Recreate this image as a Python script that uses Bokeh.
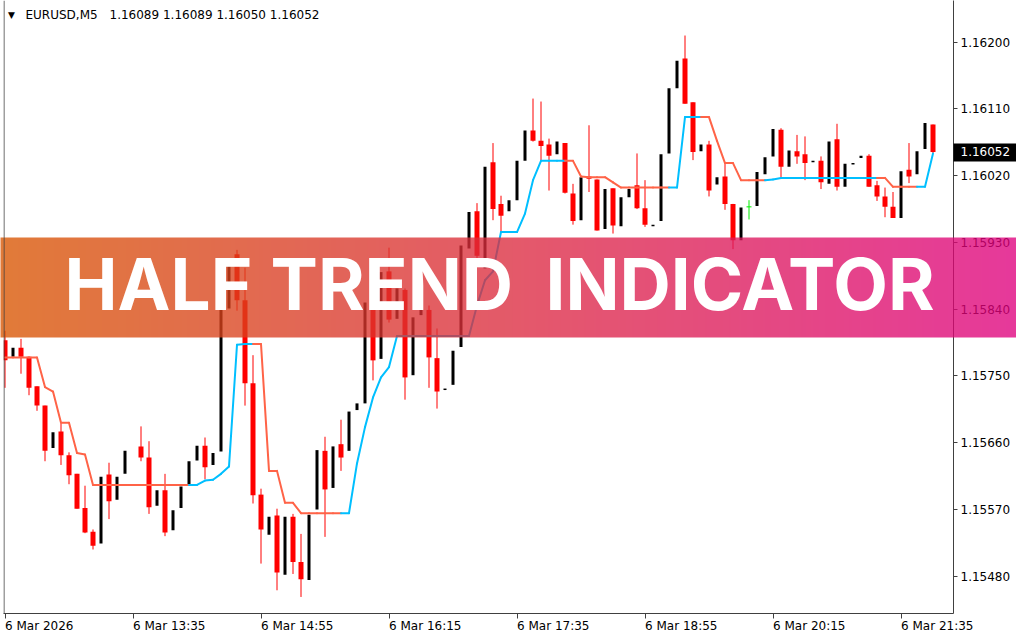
import numpy as np
from bokeh.plotting import figure
from bokeh.models import Range1d, FixedTicker, PrintfTickFormatter, Label, Span
from bokeh.core.properties import value
from bokeh.embed import file_html
from bokeh.resources import INLINE

nan = float("nan")

# ---------------- data ----------------
symbol = "EURUSD,M5"
time_tick_bars = [0, 16, 32, 48, 64, 80, 96, 112]
time_tick_labels = ["6 Mar 2026", "6 Mar 13:35", "6 Mar 14:55", "6 Mar 16:15",
                    "6 Mar 17:35", "6 Mar 18:55", "6 Mar 20:15", "6 Mar 21:35"]
price_ticks = [1.16200, 1.16110, 1.16020, 1.15930, 1.15840,
               1.15750, 1.15660, 1.15570, 1.15480]

opens = [1.15798, 1.15776, 1.15788, 1.15776, 1.15736, 1.15710, 1.15653, 1.15675, 1.15643, 1.15618,
         1.15572, 1.15540, 1.15524, 1.15617, 1.15583, 1.15618, nan, 1.15655, 1.15640, 1.15575,
         1.15596, 1.15542, 1.15572, 1.15603, 1.15636, 1.15656, 1.15630, 1.15648, 1.15841, 1.15914,
         1.15852, 1.15740, 1.15590, 1.15536, 1.15562, 1.15482, 1.15560, 1.15499, 1.15475, 1.15570,
         1.15649, 1.15599, 1.15658, 1.15649, 1.15704, 1.15713, 1.15843, 1.15773, 1.15891, 1.15827,
         1.15866, 1.15751, 1.15832, 1.15839, 1.15774, 1.15731, 1.15738, 1.15789, 1.15922, 1.15972,
         1.15895, 1.16038, 1.15982, 1.15972, 1.15987, 1.16040, 1.16081, 1.16067, 1.16062, 1.16049,
         1.16064, 1.15996, 1.15960, 1.16019, 1.16015, 1.15948, 1.16003, 1.15952, 1.15991, 1.16007,
         1.15976, 1.15952, 1.15959, 1.16050, 1.16138, 1.16178, 1.16119, 1.16053, 1.16062, 1.16008,
         1.16019, 1.15982, 1.15933, 1.15978, 1.15979, 1.16022, 1.16046, 1.16082, 1.16032, 1.16053,
         1.16049, 1.16038, 1.16040, 1.16009, 1.16069, 1.16005, 1.16035, 1.16044, 1.16047, 1.16007,
         1.15992, 1.15978, 1.15963, 1.16028, 1.16022, 1.16056, 1.16089]
highs = [1.15811, 1.15788, 1.15800, 1.15776, 1.15736, 1.15710, 1.15674, 1.15686, 1.15647, 1.15618,
         1.15602, 1.15543, 1.15614, 1.15633, 1.15614, 1.15649, nan, 1.15682, 1.15662, 1.15596,
         1.15618, 1.15569, 1.15601, 1.15635, 1.15656, 1.15667, 1.15646, 1.15841, 1.15909, 1.15920,
         1.15896, 1.15778, 1.15598, 1.15560, 1.15571, 1.15560, 1.15564, 1.15537, 1.15563, 1.15650,
         1.15668, 1.15655, 1.15691, 1.15702, 1.15713, 1.15849, 1.15852, 1.15890, 1.15923, 1.15868,
         1.15868, 1.15829, 1.15839, 1.15845, 1.15814, 1.15733, 1.15784, 1.15926, 1.15971, 1.15983,
         1.16032, 1.16064, 1.15993, 1.15987, 1.16040, 1.16081, 1.16124, 1.16120, 1.16070, 1.16066,
         1.16064, 1.16009, 1.16018, 1.16088, 1.16015, 1.16002, 1.16003, 1.15991, 1.16002, 1.16050,
         1.16014, 1.15954, 1.16049, 1.16138, 1.16175, 1.16209, 1.16119, 1.16062, 1.16067, 1.16018,
         1.16037, 1.15982, 1.15977, 1.15987, 1.16025, 1.16045, 1.16083, 1.16084, 1.16054, 1.16075,
         1.16073, 1.16040, 1.16046, 1.16066, 1.16090, 1.16036, 1.16037, 1.16047, 1.16049, 1.16013,
         1.16004, 1.15998, 1.16026, 1.16064, 1.16053, 1.16091, 1.16089]
lows = [1.15734, 1.15776, 1.15753, 1.15724, 1.15703, 1.15635, 1.15653, 1.15630, 1.15604, 1.15571,
        1.15538, 1.15516, 1.15524, 1.15557, 1.15583, 1.15618, nan, 1.15635, 1.15564, 1.15575,
        1.15534, 1.15542, 1.15572, 1.15603, 1.15636, 1.15611, 1.15630, 1.15648, 1.15841, 1.15838,
        1.15710, 1.15578, 1.15497, 1.15536, 1.15461, 1.15482, 1.15483, 1.15452, 1.15475, 1.15570,
        1.15533, 1.15599, 1.15622, 1.15649, 1.15704, 1.15713, 1.15744, 1.15773, 1.15822, 1.15827,
        1.15718, 1.15751, 1.15832, 1.15734, 1.15706, 1.15731, 1.15738, 1.15789, 1.15922, 1.15903,
        1.15895, 1.15960, 1.15943, 1.15972, 1.15987, 1.16040, 1.16066, 1.16040, 1.16000, 1.16049,
        1.15996, 1.15954, 1.15960, 1.15998, 1.15946, 1.15948, 1.15942, 1.15952, 1.15991, 1.15975,
        1.15951, 1.15952, 1.15959, 1.16050, 1.16138, 1.16117, 1.16041, 1.16053, 1.15992, 1.16008,
        1.15974, 1.15921, 1.15933, 1.15961, 1.15979, 1.16022, 1.16046, 1.16018, 1.16032, 1.16036,
        1.16014, 1.16038, 1.16002, 1.16009, 1.16000, 1.16005, 1.16035, 1.16044, 1.16005, 1.15986,
        1.15964, 1.15963, 1.15963, 1.16010, 1.16022, 1.16056, 1.16050]
closes = [1.15771, 1.15788, 1.15776, 1.15734, 1.15710, 1.15649, 1.15674, 1.15643, 1.15616, 1.15571,
          1.15539, 1.15521, 1.15614, 1.15581, 1.15614, 1.15649, nan, 1.15640, 1.15573, 1.15596,
          1.15539, 1.15569, 1.15601, 1.15635, 1.15656, 1.15627, 1.15646, 1.15841, 1.15909, 1.15852,
          1.15740, 1.15589, 1.15543, 1.15560, 1.15485, 1.15560, 1.15499, 1.15476, 1.15563, 1.15650,
          1.15597, 1.15655, 1.15640, 1.15702, 1.15713, 1.15849, 1.15771, 1.15890, 1.15826, 1.15868,
          1.15748, 1.15829, 1.15839, 1.15775, 1.15729, 1.15733, 1.15784, 1.15926, 1.15971, 1.15912,
          1.16032, 1.15975, 1.15966, 1.15987, 1.16040, 1.16081, 1.16067, 1.16060, 1.16047, 1.16066,
          1.15997, 1.15959, 1.16018, 1.16016, 1.15946, 1.16002, 1.15953, 1.15991, 1.16002, 1.15976,
          1.15954, 1.15954, 1.16049, 1.16138, 1.16175, 1.16117, 1.16052, 1.16062, 1.16000, 1.16018,
          1.15982, 1.15933, 1.15977, 1.15978, 1.16025, 1.16045, 1.16083, 1.16032, 1.16054, 1.16046,
          1.16037, 1.16040, 1.16011, 1.16066, 1.16005, 1.16036, 1.16037, 1.16047, 1.16005, 1.15992,
          1.15978, 1.15963, 1.16026, 1.16019, 1.16053, 1.16091, 1.16052]

half_trend = [1.15775, 1.15775, 1.15775, 1.15775, 1.15775, 1.15735, 1.15729, 1.15687, 1.15687, 1.15646,
              1.15644, 1.15603, 1.15603, 1.15603, 1.15603, 1.15603, 1.15603, 1.15603, 1.15603, 1.15603,
              1.15603, 1.15603, 1.15603, 1.15603, 1.15603, 1.15609, 1.15610, 1.15618, 1.15628, 1.15792,
              1.15793, 1.15793, 1.15793, 1.15622, 1.15622, 1.15579, 1.15579, 1.15565, 1.15565, 1.15565,
              1.15565, 1.15565, 1.15565, 1.15565, 1.15632, 1.15681, 1.15721, 1.15748, 1.15762, 1.15804,
              1.15804, 1.15804, 1.15804, 1.15804, 1.15804, 1.15804, 1.15804, 1.15804, 1.15804, 1.15845,
              1.15879, 1.15891, 1.15944, 1.15944, 1.15944, 1.15969, 1.16014, 1.16040, 1.16040, 1.16040,
              1.16040, 1.16040, 1.16019, 1.16018, 1.16018, 1.16018, 1.16011, 1.16004, 1.16004, 1.16004,
              1.16004, 1.16004, 1.16004, 1.16004, 1.16004, 1.16099, 1.16099, 1.16099, 1.16099, 1.16067,
              1.16037, 1.16037, 1.16014, 1.16014, 1.16014, 1.16014, 1.16015, 1.16017, 1.16017, 1.16017,
              1.16017, 1.16017, 1.16017, 1.16017, 1.16017, 1.16017, 1.16017, 1.16017, 1.16017, 1.16017,
              1.16017, 1.16005, 1.16005, 1.16005, 1.16005, 1.16005, 1.16050]
# U = up trend (blue), D = down trend (red) for each bar
trend = ("DDDDDDDDDDDDDDDDDDDDDDDD" "UUUUUUUU" "DDDDDDDDDDD"
         "UUUUUUUUUUUUUUUUUUUUUUUUUUUU" "DDDDDDDDDDDDD" "UUUU" "DDDDDDDD"
         "UUUUUUUUUUUUUU" "DDDDD" "UU")

banner_words = ["HALF", "TREND", "INDICATOR"]

n = len(opens)
assert len(highs) == n and len(lows) == n and len(closes) == n
assert len(half_trend) == n and len(trend) == n

# ---------------- layout helpers (canvas pixels -> data units) ----------------
FIG_W, FIG_H = 1016, 632
FRAME_L, FRAME_R, FRAME_B = 3, 953, 613
BAR_PX, BAR0_X = 8.0, 4.5
REF_PRICE, REF_Y, PX_PER_UNIT = 1.16200, 41.7, 74166.0

def px(cx):
    return (cx - BAR0_X) / BAR_PX

def py(cy):
    return REF_PRICE - (cy - REF_Y) / PX_PER_UNIT

AX = "#404040"
FONT = "DejaVu Sans"

p = figure(width=FIG_W, height=FIG_H,
           x_range=Range1d(px(FRAME_L), px(FRAME_R)), y_range=Range1d(py(FRAME_B), py(0)),
           output_backend="svg", toolbar_location=None,
           x_axis_location="below", y_axis_location="right",
           min_border_left=FRAME_L, min_border_top=0,
           min_border_right=FIG_W - FRAME_R, min_border_bottom=FIG_H - FRAME_B)
p.grid.visible = False
p.outline_line_color = None
p.background_fill_color = "white"
p.border_fill_color = "white"

# right price axis
ya = p.yaxis[0]
ya.ticker = FixedTicker(ticks=price_ticks)
ya.formatter = PrintfTickFormatter(format="%.5f")
ya.axis_line_color = AX
ya.major_tick_line_color = AX
ya.major_tick_in = 0
ya.major_tick_out = 4
ya.minor_tick_line_color = None
ya.major_label_standoff = 3
ya.major_label_text_font = FONT
ya.major_label_text_font_size = "12px"
ya.major_label_text_color = "black"

# bottom time axis: line and tick marks from the axis; labels start at their tick
xa = p.xaxis[0]
xa.ticker = FixedTicker(ticks=time_tick_bars, minor_ticks=[])
xa.major_label_overrides = {b: "" for b in time_tick_bars}
xa.major_label_text_font_size = "1px"
xa.major_label_standoff = 0
xa.axis_line_color = AX
xa.major_tick_line_color = AX
xa.major_tick_in = 0
xa.major_tick_out = 5
xa.minor_tick_line_color = None

# text glyphs at "annotation" level are drawn outside the plot frame as well
p.text(x=time_tick_bars, y=[py(625.5)] * len(time_tick_bars), text=time_tick_labels,
       text_font=value(FONT), text_font_size="12px", text_color="black",
       text_align="left", text_baseline="middle", level="annotation")

p.add_layout(Span(location=px(FRAME_L + 0.5), dimension="height", line_color=AX, line_width=1))

# ---------------- candles ----------------
idx = list(range(n))
valid = [i for i in idx if opens[i] == opens[i]]
bull = [i for i in valid if closes[i] > opens[i]]
bear = [i for i in valid if closes[i] < opens[i]]
doji = [i for i in valid if closes[i] == opens[i]]

p.segment(x0=bear, x1=bear, y0=[highs[i] for i in bear], y1=[lows[i] for i in bear],
          line_color="#ff0000", line_width=1)
p.vbar(x=bear, width=5 / BAR_PX, top=[opens[i] for i in bear], bottom=[closes[i] for i in bear],
       fill_color="#ff0000", line_color=None)
p.vbar(x=bull, width=3 / BAR_PX, top=[closes[i] for i in bull], bottom=[opens[i] for i in bull],
       fill_color="black", line_color=None)
p.segment(x0=doji, x1=doji, y0=[highs[i] for i in doji], y1=[lows[i] for i in doji],
          line_color="#00ee00", line_width=1)
p.segment(x0=[i - 2.5 / BAR_PX for i in doji], x1=[i + 2.5 / BAR_PX for i in doji],
          y0=[opens[i] for i in doji], y1=[opens[i] for i in doji],
          line_color="#00ee00", line_width=1)

# ---------------- Half Trend line ----------------
seg_i = list(range(1, n))
p.segment(x0=[i - 1 for i in seg_i], x1=seg_i,
          y0=[half_trend[i - 1] for i in seg_i], y1=[half_trend[i] for i in seg_i],
          line_color=["#00bfff" if trend[i] == "U" else "#ff6347" for i in seg_i],
          line_width=2, line_cap="round")

# ---------------- header ----------------
p.add_layout(Label(x=px(7.5), y=py(14.0), text="\u25bc", text_font=FONT, text_font_size="9px",
                   text_color="black", text_baseline="alphabetic"))
p.add_layout(Label(x=px(25), y=py(14.3), text=symbol, text_font=FONT, text_font_size="12px",
                   text_color="black", text_baseline="alphabetic"))
last = n - 1
ohlc_text = " ".join(f"{v:.5f}" for v in (opens[last], highs[last], lows[last], closes[last]))
p.add_layout(Label(x=px(109), y=py(14.3), text=ohlc_text, text_font=FONT, text_font_size="12px",
                   text_color="black", text_baseline="alphabetic"))

# ---------------- current price tag on the price scale ----------------
p.quad(left=[px(FRAME_R)], right=[px(FIG_W)], top=[py(143)], bottom=[py(161)],
       fill_color="black", line_color=None, level="annotation")
p.text(x=[px(960)], y=[closes[last]], text=[f"{closes[last]:.5f}"],
       text_font=value(FONT), text_font_size="12px", text_color="white",
       text_align="left", text_baseline="middle", level="annotation")

# ---------------- gradient banner ----------------
LEFT_RGB = np.array([216, 85, 0], dtype=float)
RIGHT_RGB = np.array([223, 0, 127], dtype=float)
ALPHA = 0.78
BAN_TOP, BAN_BOT = 237, 337

t = (np.arange(FIG_W) + 0.5) / 1024.0
rgb = LEFT_RGB[None, :] + (RIGHT_RGB - LEFT_RGB)[None, :] * t[:, None]
img = np.zeros((1, FIG_W), dtype=np.uint32)
view = img.view(dtype=np.uint8).reshape((1, FIG_W, 4))
view[0, :, 0] = np.round(rgb[:, 0]).astype(np.uint8)
view[0, :, 1] = np.round(rgb[:, 1]).astype(np.uint8)
view[0, :, 2] = np.round(rgb[:, 2]).astype(np.uint8)
view[0, :, 3] = int(round(ALPHA * 255))
p.image_rgba(image=[img], x=px(0), y=py(BAN_BOT), dw=px(FIG_W) - px(0),
             dh=py(BAN_TOP) - py(BAN_BOT), level="annotation")

word_x = [64, 270, 545]
for word, wx in zip(banner_words, word_x):
    p.add_layout(Label(x=px(wx), y=py(283.5), text=word, text_font="Inter",
                       text_font_style="bold", text_font_size="71px", text_color="white",
                       text_baseline="alphabetic", level="overlay"))

open("out.html", "w").write(file_html(p, INLINE))
